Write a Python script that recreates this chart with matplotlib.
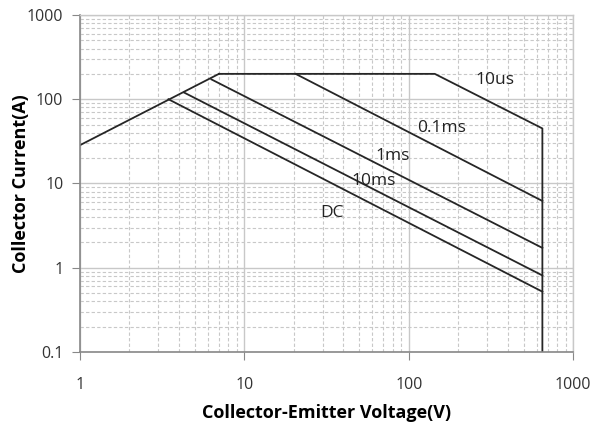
import numpy as np
import matplotlib
matplotlib.use("Agg")
import matplotlib.pyplot as plt
from matplotlib.ticker import LogLocator, FixedLocator, NullFormatter

# Safe operating area curves (voltage V, current A)
rise_v = [1, 7]
rise_i = [28.5, 200]
us10_v = [7, 144, 650, 650]
us10_i = [200, 200, 45, 0.1]
ms01_v = [20.5, 650]
ms01_i = [200, 6.2]
ms1_v = [6.3, 650]
ms1_i = [172, 1.72]
ms10_v = [4.3, 650]
ms10_i = [120, 0.81]
dc_v = [3.45, 650]
dc_i = [100, 0.52]

curve_labels = ["10us", "0.1ms", "1ms", "10ms", "DC"]
label_v = [333, 158, 80, 61, 34]
label_i = [169, 46, 21.4, 10.7, 4.5]

plt.rcParams['font.family'] = ['Open Sans', 'DejaVu Sans']

fig = plt.figure(figsize=(6.07, 4.28), dpi=100)
ax = fig.add_axes([0.1318, 0.1776, 0.8124, 0.7874])

lc = '#262626'
lw = 1.3
ax.plot(rise_v, rise_i, color=lc, lw=lw)
ax.plot(us10_v, us10_i, color=lc, lw=lw)
ax.plot(ms01_v, ms01_i, color=lc, lw=lw)
ax.plot(ms1_v, ms1_i, color=lc, lw=lw)
ax.plot(ms10_v, ms10_i, color=lc, lw=lw)
ax.plot(dc_v, dc_i, color=lc, lw=lw)

for t, v, i in zip(curve_labels, label_v, label_i):
    ax.text(v, i, t, fontsize=12.5, color='#222222', ha='center', va='center')

ax.set_xscale('log')
ax.set_yscale('log')
ax.set_xlim(1, 1000)
ax.set_ylim(0.1, 1000)

ax.xaxis.set_major_locator(FixedLocator([1, 10, 100, 1000]))
ax.yaxis.set_major_locator(FixedLocator([0.1, 1, 10, 100, 1000]))
ax.set_xticklabels(['1', '10', '100', '1000'])
ax.set_yticklabels(['0.1', '1', '10', '100', '1000'])
ax.xaxis.set_minor_locator(LogLocator(base=10, subs=np.arange(2, 10)))
ax.yaxis.set_minor_locator(LogLocator(base=10, subs=np.arange(2, 10)))
ax.xaxis.set_minor_formatter(NullFormatter())
ax.yaxis.set_minor_formatter(NullFormatter())

ax.grid(which='major', color='#c8c8c8', lw=1.0, ls='-')
ax.grid(which='minor', color='#c8c8c8', lw=0.8, ls=(0, (3, 2)))
ax.set_axisbelow(True)

ax.tick_params(which='major', direction='out', length=6, color='#888888',
               labelsize=11.5, labelcolor='#333333', pad=12)
ax.tick_params(axis='y', which='major', pad=6)
ax.tick_params(which='minor', length=0)

for s in ['left', 'bottom']:
    ax.spines[s].set_color('#888888')
    ax.spines[s].set_linewidth(1.2)
for s in ['top', 'right']:
    ax.spines[s].set_color('#c8c8c8')
    ax.spines[s].set_linewidth(1.0)

ax.set_xlabel('Collector-Emitter Voltage(V)', fontsize=13, fontweight='bold', labelpad=8)
ax.set_ylabel('Collector Current(A)', fontsize=13, fontweight='bold', labelpad=-2)

fig.savefig('out.png', dpi=100)
